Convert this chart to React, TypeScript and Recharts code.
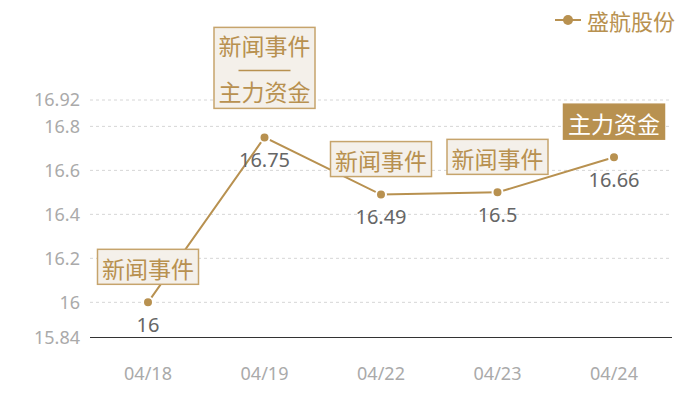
import React from "react";
import { LineChart, Line, XAxis, YAxis, CartesianGrid, Legend, LabelList } from "recharts";

const dates = ["04/18", "04/19", "04/22", "04/23", "04/24"];
const prices = [16, 16.75, 16.49, 16.5, 16.66];
const events = [["新闻事件"], ["新闻事件", "主力资金"], ["新闻事件"], ["新闻事件"], ["主力资金"]];
const yTicks = [15.84, 16, 16.2, 16.4, 16.6, 16.8, 16.92];
const seriesName = "盛航股份";

const GOLD = "#b89150";
const BOX_BG = "#f4f0ea";
const BOX_BORDER = "#c6a46c";
const CJK = "'Noto Sans CJK SC', 'Noto Sans', sans-serif";

const data = dates.map((d, i) => ({ date: d, price: prices[i], events: events[i] }));

const ValueLabel = (props: any) => {
  const { x, y, value } = props;
  return (
    <text x={x} y={y + 22} textAnchor="middle" dominantBaseline="central" fill="#666" fontSize={20} fontFamily="'Noto Sans', sans-serif">
      {value}
    </text>
  );
};

const EventBox = (props: any) => {
  const { x, y, index } = props;
  const ev: string[] = events[index];
  const fs = 23;
  const w = 101;
  const filled = ev.length === 1 && ev[0] === "主力资金";
  if (ev.length === 1) {
    const h = 35;
    const bottom = y - 18;
    return (
      <g>
        <rect x={x - w / 2} y={bottom - h} width={w} height={h} fill={filled ? GOLD : BOX_BG} stroke={filled ? GOLD : BOX_BORDER} strokeWidth={1.5} />
        <text x={x} y={bottom - h / 2 + 1} textAnchor="middle" dominantBaseline="central" fill={filled ? "#fff" : GOLD} fontSize={fs} fontFamily={CJK}>
          {ev[0]}
        </text>
      </g>
    );
  }
  const h = 81;
  const bottom = y - 29;
  const top = bottom - h;
  return (
    <g>
      <rect x={x - w / 2} y={top} width={w} height={h} fill={BOX_BG} stroke={BOX_BORDER} strokeWidth={1.5} />
      <text x={x} y={top + 18} textAnchor="middle" dominantBaseline="central" fill={GOLD} fontSize={fs} fontFamily={CJK}>
        {ev[0]}
      </text>
      <line x1={x - 26} x2={x + 26} y1={top + 43} y2={top + 43} stroke={GOLD} strokeWidth={1.5} />
      <text x={x} y={top + 64} textAnchor="middle" dominantBaseline="central" fill={GOLD} fontSize={fs} fontFamily={CJK}>
        {ev[1]}
      </text>
    </g>
  );
};

const LegendContent = () => (
  <div style={{ display: "flex", alignItems: "center", justifyContent: "flex-end", fontFamily: CJK, height: 30 }}>
    <svg width={26} height={12} style={{ marginRight: 6 }}>
      <line x1={0} x2={26} y1={6} y2={6} stroke={GOLD} strokeWidth={2} />
      <circle cx={13} cy={6} r={5} fill={GOLD} />
    </svg>
    <span style={{ color: GOLD, fontSize: 22 }}>{seriesName}</span>
  </div>
);

export default function App() {
  return (
    <div style={{ position: "absolute", left: 0, top: 0, background: "#fff" }}>
      <LineChart width={700} height={400} data={data} margin={{ top: 70, right: 28, bottom: 32.5, left: 0 }}>
        <CartesianGrid vertical={false} stroke="#d6d6d6" strokeDasharray="3 3" horizontalValues={yTicks.slice(1)} />
        <XAxis
          dataKey="date"
          padding={{ left: 58, right: 58 }}
          axisLine={{ stroke: "#333", strokeWidth: 1, shapeRendering: "crispEdges" }}
          tickLine={false}
          tickMargin={24}
          tick={{ fill: "#aaa", fontSize: 18, fontFamily: "'Noto Sans', sans-serif" }}
        />
        <YAxis
          domain={[15.84, 16.92]}
          ticks={yTicks}
          interval={0}
          width={90}
          axisLine={false}
          tickLine={false}
          tickMargin={4}
          tick={{ fill: "#aaa", fontSize: 18, fontFamily: "'Noto Sans', sans-serif" }}
        />
        <Legend verticalAlign="top" align="right" content={LegendContent} wrapperStyle={{ top: 5, right: 25 }} />
        <Line
          name={seriesName}
          dataKey="price"
          stroke={GOLD}
          strokeWidth={2}
          dot={{ r: 5, fill: GOLD, stroke: "#fff", strokeWidth: 2 }}
          activeDot={false}
          isAnimationActive={false}
        >
          <LabelList dataKey="price" content={ValueLabel} />
          <LabelList dataKey="price" content={EventBox} />
        </Line>
      </LineChart>
    </div>
  );
}
